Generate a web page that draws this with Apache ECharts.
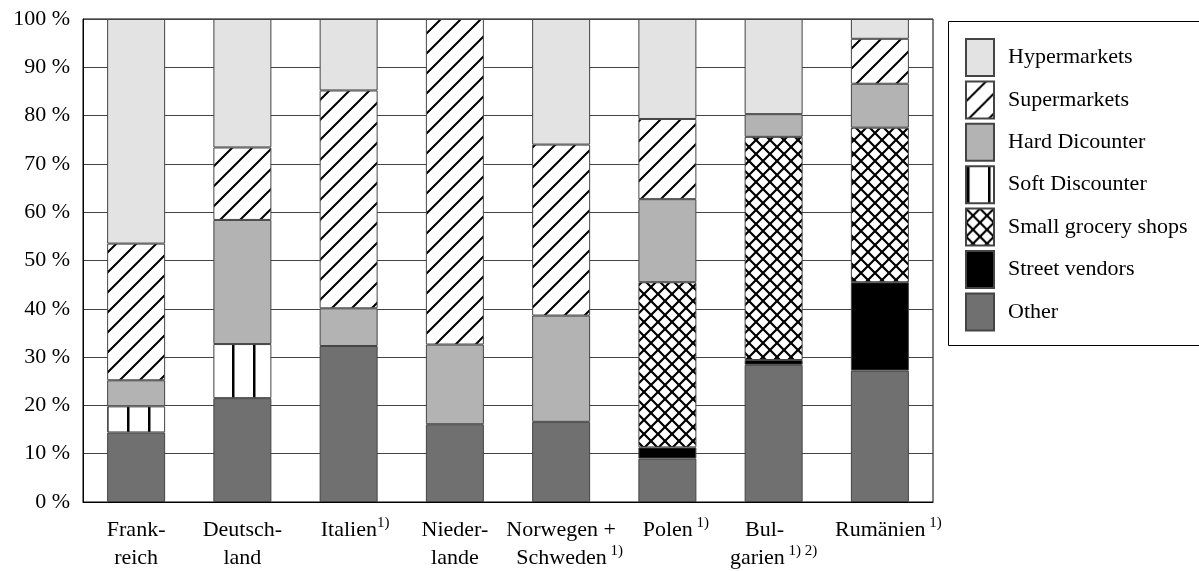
<!DOCTYPE html>
<html><head><meta charset="utf-8">
<script src="https://cdn.jsdelivr.net/npm/echarts@6/dist/echarts.min.js"></script>
<style>html,body{margin:0;padding:0;background:#fff}#c{width:1199px;height:571px}</style>
</head><body><div id="c"></div>
<script>
// ---- data ----
const categories = ['Frankreich', 'Deutschland', 'Italien', 'Niederlande', 'Norwegen + Schweden', 'Polen', 'Bulgarien', 'Rumänien'];
const tickLabels = [
  '{m|Frank-}\n{m|reich}',
  '{m|Deutsch-}\n{m|land}',
  '{p|Italien}{s|1)}',
  '{m|Nieder-}\n{m|lande}',
  '{m|Norwegen +}\n{q|Schweden}{s| 1)}',
  '{q|Polen}{s| 1)}',
  '{r|Bul-}\n{g|garien}{s| 1) 2)}',
  '{q|Rumänien}{s| 1)}'
];
const yTicks = [0, 10, 20, 30, 40, 50, 60, 70, 80, 90, 100];
const other       = [14.4, 21.5, 32.3, 16.1, 16.6, 9.0, 28.4, 27.2];
const street      = [null, null, null, null, null, 2.3, 1.0, 18.3];
const smallShops  = [null, null, null, null, null, 34.2, 46.2, 32.0];
const softDisc    = [5.4, 11.2, null, null, null, null, null, null];
const hardDisc    = [5.4, 25.7, 7.8, 16.5, 22.0, 17.2, 4.7, 9.1];
const supermarkets= [28.3, 15.0, 45.1, 67.4, 35.4, 16.6, null, 9.3];
const hypermarkets= [46.5, 26.6, 14.8, null, 26.0, 20.7, 19.7, 4.1];
const legendOrder = ['Hypermarkets', 'Supermarkets', 'Hard Dicounter', 'Soft Discounter', 'Small grocery shops', 'Street vendors', 'Other'];

// ---- patterns ----
function pattern(size, draw) {
  const c = document.createElement('canvas');
  c.width = size; c.height = size;
  const x = c.getContext('2d');
  x.fillStyle = '#fff'; x.fillRect(0, 0, size, size);
  x.strokeStyle = '#000'; x.fillStyle = '#000'; x.lineWidth = 2;
  draw(x, size);
  return { image: c, repeat: 'repeat' };
}
function diagUp(x, s) {
  x.beginPath();
  x.moveTo(-1, s + 1); x.lineTo(s + 1, -1);
  x.moveTo(-1, 1); x.lineTo(1, -1);
  x.moveTo(s - 1, s + 1); x.lineTo(s + 1, s - 1);
  x.stroke();
}
function diagDown(x, s) {
  x.beginPath();
  x.moveTo(-1, -1); x.lineTo(s + 1, s + 1);
  x.moveTo(s - 1, -1); x.lineTo(s + 1, 1);
  x.moveTo(-1, s - 1); x.lineTo(1, s + 1);
  x.stroke();
}
const patSuper = pattern(20, diagUp);
const patSmall = pattern(14, (x, s) => { x.lineWidth = 2.2; diagUp(x, s); diagDown(x, s); });
const patSoft = pattern(21, (x, s) => { x.fillRect(1, 0, 2.5, s); });

const FONT = "'Liberation Serif', 'Times New Roman', serif";
const border = { borderColor: '#444', borderWidth: 1 };

function mk(name, data, color) {
  return {
    name, type: 'bar', stack: 'total', data, barWidth: 58,
    itemStyle: Object.assign({ color }, border),
    emphasis: { disabled: true }
  };
}

const chart = echarts.init(document.getElementById('c'), null, { renderer: 'canvas' });
chart.setOption({
  animation: false,
  backgroundColor: '#fff',
  textStyle: { fontFamily: FONT },
  grid: { left: 83, right: 266, top: 19, bottom: 69, show: true, borderColor: '#000', borderWidth: 1, backgroundColor: 'transparent' },
  xAxis: {
    type: 'category', data: categories,
    axisTick: { show: false },
    axisLine: { lineStyle: { color: '#000', width: 1 } },
    axisLabel: {
      interval: 0, margin: 14, color: '#000', fontFamily: FONT,
      formatter: (v, i) => tickLabels[i],
      rich: {
        m: { fontSize: 22, lineHeight: 28, fontFamily: FONT, color: '#000' },
        p: { fontSize: 22, lineHeight: 28, fontFamily: FONT, color: '#000', padding: [0, 0, 0, 13] },
        q: { fontSize: 22, lineHeight: 28, fontFamily: FONT, color: '#000', padding: [0, 0, 0, 17] },
        r: { fontSize: 22, lineHeight: 28, fontFamily: FONT, color: '#000', padding: [0, 18, 0, 0] },
        g: { fontSize: 22, lineHeight: 28, fontFamily: FONT, color: '#000' },
        s: { fontSize: 15, lineHeight: 15, fontFamily: FONT, color: '#000', verticalAlign: 'top' }
      }
    }
  },
  yAxis: {
    type: 'value', min: yTicks[0], max: yTicks[yTicks.length - 1], interval: 10,
    axisLine: { show: true, lineStyle: { color: '#000', width: 1 } },
    axisTick: { show: false },
    splitLine: { show: true, lineStyle: { color: '#444', width: 1 } },
    axisLabel: { margin: 13, fontSize: 22, color: '#000', fontFamily: FONT, formatter: v => v + ' %' }
  },
  legend: {
    orient: 'vertical', left: 965, top: 38, padding: 0,
    itemWidth: 28, itemHeight: 37, itemGap: 3.4,
    icon: 'rect',
    data: legendOrder,
    selectedMode: false,
    textStyle: { fontSize: 22, fontFamily: FONT, color: '#000', padding: [0, 0, 5, 9] }
  },
  graphic: [{
    type: 'rect', left: 946, top: 19, z: -1,
    shape: { width: 253, height: 324 },
    style: { fill: 'none', stroke: '#000', lineWidth: 1 }
  }],
  series: [
    mk('Other', other, '#707070'),
    mk('Street vendors', street, '#000000'),
    mk('Small grocery shops', smallShops, patSmall),
    mk('Soft Discounter', softDisc, patSoft),
    mk('Hard Dicounter', hardDisc, '#b3b3b3'),
    mk('Supermarkets', supermarkets, patSuper),
    mk('Hypermarkets', hypermarkets, '#e3e3e3')
  ]
});
</script>
</body></html>
